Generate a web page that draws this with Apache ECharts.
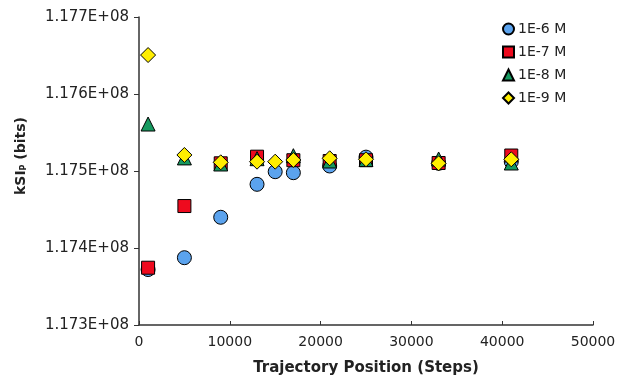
<!DOCTYPE html>
<html>
<head>
<meta charset="utf-8" />
<title>kSIP vs trajectory position</title>
<style>
	*{ margin: 0; padding: 0; }
	body{ background: #fff; }
	#chart{ width: 625px; height: 377px; }
</style>
<script src="https://cdn.jsdelivr.net/npm/echarts@6/dist/echarts.min.js"></script>
</head>
<body>
<div id="chart"></div>
<script>
	// trajectory positions (steps) for each concentration
	var steps6 = [1000, 5000, 9000, 13000, 15000, 17000, 21000, 25000, 33000, 41000];
	var kSI6   = [117372000, 117387400, 117439900, 117482700, 117499100, 117497800, 117506500, 117518000, 117510000, 117512000];

	var steps7 = [1000, 5000, 9000, 13000, 17000, 21000, 25000, 33000, 41000];
	var kSI7   = [117374400, 117454500, 117510000, 117518600, 117514000, 117513000, 117514000, 117510400, 117520100];

	var steps8 = [1000, 5000, 9000, 13000, 17000, 21000, 25000, 33000, 41000];
	var kSI8   = [117561000, 117517000, 117509100, 117516000, 117519900, 117513000, 117515000, 117515600, 117510400];

	var steps9 = [1000, 5000, 9000, 13000, 15000, 17000, 21000, 25000, 33000, 41000];
	var kSI9   = [117650600, 117520800, 117511300, 117512100, 117512100, 117514300, 117516500, 117515200, 117510000, 117515200];

	var seriesNames = ['1E-6 M', '1E-7 M', '1E-8 M', '1E-9 M'];
	var yTicks = [117300000, 117400000, 117500000, 117600000, 117700000];

	function pairs(xs, ys){
		var out = [];
		for(var i = 0; i < xs.length; i++){
			out.push([xs[i], ys[i]]);
		}
		return out;
	}

	var font = 'DejaVu Sans';
	var oChart = echarts.init(document.getElementById('chart'));

	function mk(name, xs, ys, symbol, size, color){
		return {
			name: name,
			type: 'scatter',
			symbol: symbol,
			symbolSize: size,
			itemStyle: { color: color, borderColor: '#000', borderWidth: 1, opacity: 1 },
			emphasis: { disabled: true },
			data: pairs(xs, ys)
		};
	}

	var chartopt = {
		backgroundColor: '#fff',
		animation: false,
		grid: { left: 139, right: 32, top: 17, bottom: 52, outerBoundsMode: 'none', containLabel: false },
		legend: {
			orient: 'vertical',
			left: 497,
			top: 17,
			itemWidth: 11,
			itemHeight: 11,
			itemGap: 9,
			textStyle: { fontFamily: font, fontSize: 14, color: '#222', padding: [0, 0, 0, -1] },
			data: seriesNames
		},
		xAxis: {
			type: 'value',
			min: 0,
			max: 50000,
			interval: 10000,
			name: 'Trajectory Position (Steps)',
			nameLocation: 'middle',
			nameGap: 36,
			nameTextStyle: { fontFamily: font, fontSize: 15, fontWeight: 'bold', color: '#222' },
			axisLine: { show: true, lineStyle: { color: '#333', width: 1.5 } },
			axisTick: { show: true, inside: true, length: 4, lineStyle: { color: '#333' } },
			axisLabel: {
				fontFamily: font, fontSize: 14, color: '#222', margin: 10,
				formatter: function(v){ return String(v); }
			},
			splitLine: { show: false }
		},
		yAxis: {
			type: 'value',
			min: yTicks[0],
			max: yTicks[yTicks.length - 1],
			interval: 100000,
			name: 'kSI{sub|P} (bits)',
			nameLocation: 'middle',
			nameGap: 111,
			nameRotate: 90,
			nameTextStyle: {
				fontFamily: font, fontSize: 14, fontWeight: 'bold', color: '#222',
				padding: [0, 0, 0, 30],
				rich: { sub: { fontFamily: font, fontSize: 8, fontWeight: 'bold', color: '#222', verticalAlign: 'bottom', padding: [5, 0, 0, 0] } }
			},
			axisLine: { show: true, lineStyle: { color: '#333', width: 1.5 } },
			axisTick: { show: true, length: 5, lineStyle: { color: '#333' } },
			axisLabel: {
				fontFamily: font, fontSize: 15, color: '#222', margin: 10,
				formatter: function(v){ return (v / 1e8).toFixed(3) + 'E+08'; }
			},
			splitLine: { show: false }
		},
		series: [
			mk(seriesNames[0], steps6, kSI6, 'circle', 14, '#5ba3ee'),
			mk(seriesNames[1], steps7, kSI7, 'rect', 13, '#ee0a1e'),
			mk(seriesNames[2], steps8, kSI8, 'triangle', 14, '#169a60'),
			mk(seriesNames[3], steps9, kSI9, 'diamond', 15, '#ffee00')
		]
	};
	oChart.setOption(chartopt);
</script>
</body>
</html>
